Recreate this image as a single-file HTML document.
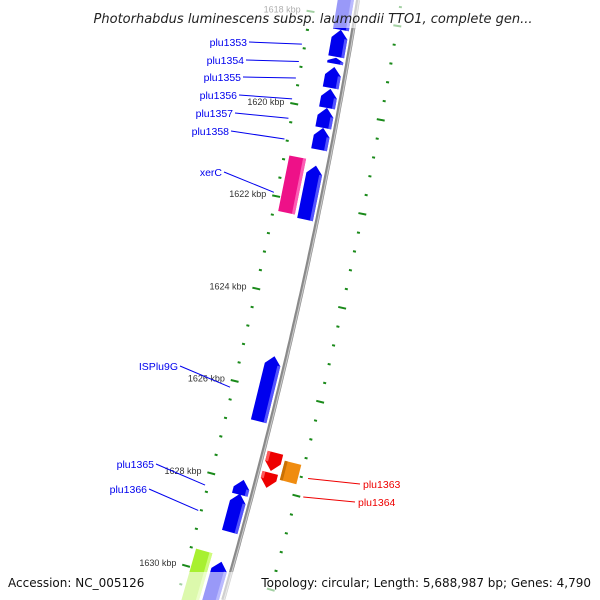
<!DOCTYPE html>
<html><head><meta charset="utf-8"><style>
html,body{margin:0;padding:0;background:#fff;width:600px;height:600px;overflow:hidden;}
svg{display:block;font-family:"Liberation Sans","DejaVu Sans",sans-serif;}
</style></head><body>
<svg id="map" width="600" height="600" viewBox="0 0 600 600" xmlns="http://www.w3.org/2000/svg">
<g id="ticks"></g>
<g id="feats"></g>
<path id="backbone" fill="none" stroke="#8a8a8a" stroke-width="4"/>
<path id="backbone2" fill="none" stroke="#c8c8c8" stroke-width="1.2"/>
<g id="labels"></g>
<rect x="0" y="0" width="600" height="28" fill="#fff" opacity="0.6"/>
<rect x="0" y="572" width="600" height="28" fill="#fff" opacity="0.6"/>
<text x="313" y="23" text-anchor="middle" font-size="13" font-style="italic" fill="#222" style="font-family:'DejaVu Sans',sans-serif">Photorhabdus luminescens subsp. laumondii TTO1, complete gen...</text>
<text x="8" y="587" font-size="12" fill="#111" style="font-family:'DejaVu Sans',sans-serif">Accession: NC_005126</text>
<text x="591" y="587" text-anchor="end" font-size="12" fill="#111" style="font-family:'DejaVu Sans',sans-serif">Topology: circular; Length: 5,688,987 bp; Genes: 4,790</text>
</svg>
<script>
// data
const geneNames = ["top","plu1353","plu1354","plu1355","plu1356","plu1357","plu1358","xerC","xerC-cog","ISPlu9G","plu1365","plu1366","bottom","bottom-cog","plu1363","plu1364","plu1363-cog"];
const geneStarts = [1617.42,1618.28,1618.88,1619.08,1619.55,1619.96,1620.39,1621.20,1621.10,1625.30,1627.96,1628.26,1629.72,1629.60,1627.25,1627.68,1627.36];
const geneEnds   = [1618.28,1618.86,1619.01,1619.53,1619.96,1620.39,1620.86,1622.36,1622.30,1626.70,1628.28,1629.08,1631.00,1631.00,1627.64,1628.00,1627.77];
const geneStrands= [1,1,1,1,1,1,1,1,1,1,1,1,1,1,-1,-1,-1];
const geneRings  = [1,1,1,1,1,1,1,1,2,1,1,1,1,2,1,1,2];
const geneArrow  = [1,1,1,1,1,1,1,1,0,1,1,1,1,0,1,1,0];
const geneColors = ["#0000ee","#0000ee","#0000ee","#0000ee","#0000ee","#0000ee","#0000ee","#0000ee","#ee1188","#0000ee","#0000ee","#0000ee","#0000ee","#a8f030","#ee0000","#ee0000","#f08c10"];
const kbpTickLabels = [1618,1620,1622,1624,1626,1628,1630];
const labelNames = ["plu1353","plu1354","plu1355","plu1356","plu1357","plu1358","xerC","ISPlu9G","plu1365","plu1366","plu1363","plu1364"];
const labelGeneIdx = [1,2,3,4,5,6,7,9,10,11,14,15];
const labelX = [247,244,241,237,233,229,222,178,154,147,363,358];
const labelY = [46,64,81,99,117,135,176,370,468,493,488,506];

const svgNS="http://www.w3.org/2000/svg";
function byBack(y){return 358-0.163*y-1.03e-4*y*y;}
function slope(y){return -0.163-2.06e-4*y;}
function kToY(k){return 112+(k-1620)*46.6;}
function pt(k,d){const y=kToY(k),x=byBack(y),s=slope(y),L=Math.sqrt(1+s*s);return [x-d/L, y+s*d/L];}
function P(a){return a.map(p=>p[0].toFixed(1)+","+p[1].toFixed(1)).join(" ");}
function mk(tag,attrs,parent){const e=document.createElementNS(svgNS,tag);for(const k in attrs)e.setAttribute(k,attrs[k]);parent.appendChild(e);return e;}

let bd="";for(let y=0;y<=600;y+=5){bd+=(y===0?"M":"L")+byBack(y).toFixed(1)+","+y;}
document.getElementById("backbone").setAttribute("d",bd);
let bd2="";for(let y=0;y<=600;y+=5){bd2+=(y===0?"M":"L")+(byBack(y)+0.8).toFixed(1)+","+y;}
document.getElementById("backbone2").setAttribute("d",bd2);

const tg=document.getElementById("ticks");
for(let i=0;i<=40;i++){
  const k=1617.2+i*0.4;
  const isLong=Math.abs((k-1620)/2-Math.round((k-1620)/2))<0.01;
  [45,-43].forEach(c=>{
    const h=isLong?4:1.5;
    const a=pt(k,c-h),b=pt(k,c+h);
    if(a[1]>598||b[1]>598)return;
    const l=mk("line",{x1:a[0],y1:a[1],x2:b[0],y2:b[1],stroke:"#1a8a1a","stroke-width":2},tg);
    
    
  });
}
kbpTickLabels.forEach(k=>{
  const p=pt(k,55);
  const t=mk("text",{x:p[0],y:p[1]+3,"text-anchor":"end","font-size":9,fill:"#333"},tg);
  t.textContent=k+" kbp";
  
  
});

const fg=document.getElementById("feats");
function lighten(c){return c==="#0000ee"?"#6a6aff":c==="#ee1188"?"#ff70c0":c==="#ee0000"?"#ff7070":c==="#f08c10"?"#c06a00":"#d8ff90";}
geneNames.forEach((n,i)=>{
  const s=geneStarts[i],e=geneEnds[i],side=geneStrands[i];
  const d1=(geneRings[i]===1?4:23)*side,d2=(geneRings[i]===1?20:40)*side;
  const dm=(d1+d2)/2;
  let h=geneArrow[i]?Math.min(0.18,(e-s)*0.6):0;
  let pts;
  if(h===0){pts=[pt(s,d1),pt(s,d2),pt(e,d2),pt(e,d1)];}
  else if(side===1){pts=[pt(e,d1),pt(e,d2),pt(s+h,d2),pt(s,dm),pt(s+h,d1)];}
  else{pts=[pt(s,d1),pt(s,d2),pt(e-h,d2),pt(e,dm),pt(e-h,d1)];}
  const poly=mk("polygon",{points:P(pts),fill:geneColors[i]},fg);
  
  
  const a=side===1?s+h:s, b=side===1?e:e-h;
  const dl=d1, dl2=d1+3*side;
  const st=mk("polygon",{points:P([pt(a,dl),pt(a,dl2),pt(b,dl2),pt(b,dl)]),fill:lighten(geneColors[i]),opacity:0.8},fg);
  
  
});

const lg=document.getElementById("labels");
labelNames.forEach((n,j)=>{
  const gi=labelGeneIdx[j],side=geneStrands[gi];
  const mid=(geneStarts[gi]+geneEnds[gi])/2;
  const end=pt(mid+0.15,side===1?48:-50);
  const col=side===1?"#0000ee":"#ee0000";
  const lx=side===1?labelX[j]+2:labelX[j]-3;
  const ln=mk("line",{x1:lx,y1:labelY[j]-4,x2:end[0],y2:end[1],stroke:col,"stroke-width":1},lg);
  
  
  const t=mk("text",{x:labelX[j],y:labelY[j],"text-anchor":side===1?"end":"start","font-size":10.5,fill:col},lg);
  t.textContent=n;
  
  
});
</script>
</body></html>
